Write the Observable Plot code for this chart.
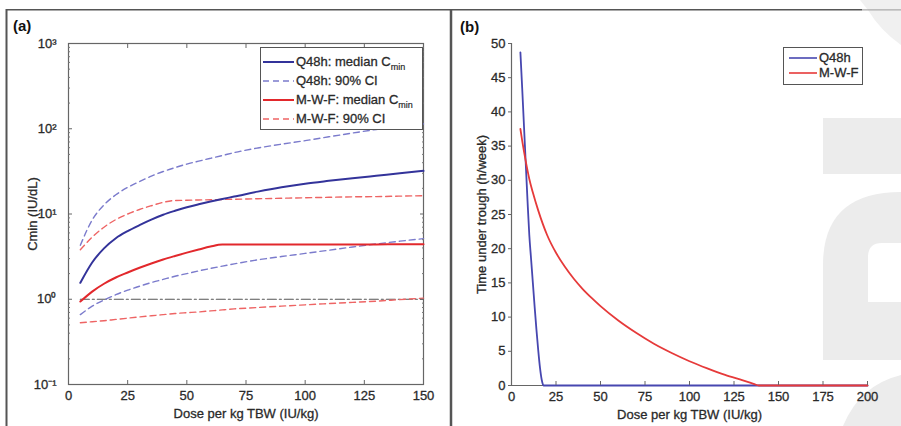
<!DOCTYPE html>
<html><head><meta charset="utf-8">
<script src="https://cdn.jsdelivr.net/npm/d3@7"></script>
<script src="https://cdn.jsdelivr.net/npm/@observablehq/plot@0.6"></script>
<style>
html,body{margin:0;padding:0;background:#fff;}
#root{position:relative;width:901px;height:426px;overflow:hidden;background:#fff;font-family:"Liberation Sans",Arial,sans-serif;color:#2a2a2a;}
#root svg text{stroke:currentColor;stroke-width:0.3px;}
.abs{position:absolute;}
.legend{position:absolute;background:#fff;border:1px solid #555;box-sizing:border-box;}
.entry{position:absolute;height:16px;line-height:16px;font-size:13px;white-space:nowrap;color:#2a2a2a;-webkit-text-stroke:0.3px #2a2a2a;}
.entry svg{position:absolute;left:0;top:0;}
.entry span.t{position:absolute;top:0;}
.entry sub{font-size:9px;vertical-align:-4px;line-height:0;-webkit-text-stroke:0.2px #2a2a2a;}
.plabel{position:absolute;font-weight:bold;font-size:15px;line-height:15px;color:#111;}
</style></head><body>
<div id="root">
  <svg class="abs" id="bg" width="901" height="426" style="left:0;top:0">
    <path d="M860,0 L901,0 L901,45 Q880,30 868,10 Z" fill="#f0f0f0"/>
    <rect x="823" y="118" width="78" height="56" fill="#ececec"/>
    <path d="M823,360 V265 Q823,192 901,192 V360 Z" fill="#ececec"/>
    <path d="M901,243 H882 Q868,243 868,257 V302 H901 Z" fill="#fff"/>
    <path d="M843,426 Q860,385 901,375 V426 Z" fill="#ececec"/>
    <line x1="6" y1="9.8" x2="862" y2="9.8" stroke="#555" stroke-width="1.6"/>
    <line x1="862" y1="9.8" x2="901" y2="9.8" stroke="#aaa" stroke-width="1.2"/>
    <line x1="6.5" y1="9" x2="6.5" y2="426" stroke="#555" stroke-width="2"/>
    <line x1="451" y1="9" x2="451" y2="426" stroke="#555" stroke-width="2.5"/>
  </svg>
  <div class="abs" id="panelA" style="left:0;top:0"></div>
  <div class="abs" id="panelB" style="left:450px;top:0"></div>
  <div class="plabel" style="left:13px;top:18px">(a)</div>
  <div class="plabel" style="left:460px;top:19px">(b)</div>
</div>
<script>
// ---------- Panel (a) data ----------
const doseA = [5,10,15,20,25,30,35,40,45,50,55,60,65,70,80,90,100,110,120,130,140,150];
const q48Median = [1.56,2.7,3.95,5.2,6.3,7.4,8.6,9.8,10.9,12.0,13.0,14.0,15.0,16.0,18.3,20.6,22.7,24.5,26.3,28.1,30.0,32.1];
const q48Upper  = [4.3,8.5,12.8,16.8,20.5,24.0,27.8,31.5,35.0,38.5,41.7,45,48.5,52.5,59.5,66,72.5,80.5,89,98,106,114];
const q48Lower  = [0.66,0.83,0.98,1.13,1.28,1.42,1.57,1.71,1.86,2.0,2.15,2.3,2.45,2.6,2.9,3.17,3.45,3.76,4.1,4.45,4.8,5.14];
const mwfMedian = [0.94,1.23,1.52,1.80,2.06,2.34,2.63,2.93,3.22,3.52,3.83,4.15,4.38,4.38,4.38,4.39,4.39,4.4,4.4,4.4,4.41,4.41];
const mwfUpper  = [3.8,5.35,7.0,8.6,10.0,11.3,12.5,13.7,14.4,14.5,14.6,14.7,14.8,14.9,15.1,15.3,15.5,15.7,15.9,16.0,16.2,16.4];
const mwfLower  = [0.53,0.545,0.56,0.58,0.60,0.62,0.64,0.66,0.68,0.695,0.71,0.73,0.75,0.77,0.80,0.83,0.86,0.89,0.92,0.95,0.99,1.03];
const refDose = [5,150];
const refLevel = [1,1];
const xTicksA = [0,25,50,75,100,125,150];
const yTicksA = [0.1,1,10,100,1000];
const yTickLabelsA = ["10\u207B\u00B9","10\u2070","10\u00B9","10\u00B2","10\u00B3"];
const legendLabelsA = ["Q48h: median C","Q48h: 90% CI","M-W-F: median C","M-W-F: 90% CI"];
const legendSubsA = ["min","","min",""];

// ---------- Panel (b) data ----------
const doseQ48B = [5,6,7,8,9,10,11,12,13,14,15,16,17,18,200];
const q48Hours = [48.7,43.5,38,32.5,27,22,18.5,15,11.5,8.2,5.2,2.6,0.8,0,0];
const doseMwfB = [5,6,8,10,12,15,20,25,30,35,40,45,50,60,70,80,90,100,110,120,130,136,139,200];
const mwfHours = [37.5,35.8,32.8,30.2,28.2,25.6,22.0,19.4,17.35,15.6,14.1,12.8,11.6,9.5,7.7,6.1,4.75,3.55,2.5,1.55,0.75,0.25,0,0];
const xTicksB = [0,25,50,75,100,125,150,175,200];
const yTicksB = [0,5,10,15,20,25,30,35,40,45,50];
const legendLabelsB = ["Q48h","M-W-F"];

// ---------- styles ----------
const FONT = '"Liberation Sans", Arial, sans-serif';
const C_Q48 = "#33339a", C_Q48D = "#7b7bcc", C_MWF = "#e2282c", C_MWFD = "#ee6464";
const C_Q48B = "#4747b0", C_MWFB = "#e63a3a";

const tbl = (xs, ys) => xs.map((d, i) => ({dose: d, value: ys[i]}));
const minorA = d3.range(-1, 3).flatMap(e => d3.range(2, 10).map(m => m * Math.pow(10, e)));

const chartA = Plot.plot({
  width: 450, height: 426,
  marginLeft: 68, marginRight: 27, marginTop: 43, marginBottom: 42,
  style: {background: "transparent", fontFamily: FONT, fontSize: "13px", color: "#2a2a2a", overflow: "visible"},
  x: {domain: [0, 150]},
  y: {type: "log", domain: [0.1, 1000]},
  marks: [
    Plot.frame({stroke: "#666", strokeWidth: 1.2}),
    Plot.line(tbl(refDose, refLevel), {x: "dose", y: "value", stroke: "#555", strokeWidth: 1.2, strokeDasharray: "9,3,2,3"}),
    Plot.line(tbl(doseA, mwfLower), {x: "dose", y: "value", stroke: C_MWFD, strokeWidth: 1.4, strokeDasharray: "6,4", curve: "monotone-x"}),
    Plot.line(tbl(doseA, mwfUpper), {x: "dose", y: "value", stroke: C_MWFD, strokeWidth: 1.4, strokeDasharray: "6,4", curve: "monotone-x"}),
    Plot.line(tbl(doseA, q48Lower), {x: "dose", y: "value", stroke: C_Q48D, strokeWidth: 1.4, strokeDasharray: "6,4", curve: "monotone-x"}),
    Plot.line(tbl(doseA, q48Upper), {x: "dose", y: "value", stroke: C_Q48D, strokeWidth: 1.4, strokeDasharray: "6,4", curve: "monotone-x"}),
    Plot.line(tbl(doseA, mwfMedian), {x: "dose", y: "value", stroke: C_MWF, strokeWidth: 2, curve: "monotone-x"}),
    Plot.line(tbl(doseA, q48Median), {x: "dose", y: "value", stroke: C_Q48, strokeWidth: 2, curve: "monotone-x"}),
    Plot.axisX({ticks: xTicksA, tickSize: 0, tickPadding: 6, label: "Dose per kg TBW (IU/kg)", labelAnchor: "center", labelOffset: 33, labelArrow: "none"}),
    Plot.axisX({ticks: xTicksA, anchor: "bottom", tickSize: -4, tickFormat: () => "", label: null, stroke: "#666"}),
    Plot.axisX({ticks: xTicksA, anchor: "top", tickSize: -4, tickFormat: () => "", label: null, stroke: "#666"}),
    Plot.axisY({ticks: yTicksA, tickSize: 0, tickPadding: 12, tickFormat: d => yTickLabelsA[yTicksA.indexOf(d)], label: "Cmin (IU/dL)", labelAnchor: "center", labelOffset: 41, labelArrow: "none"}),
    Plot.axisY({ticks: yTicksA, anchor: "left", tickSize: -4, tickFormat: () => "", label: null, stroke: "#666"}),
    Plot.axisY({ticks: yTicksA, anchor: "right", tickSize: -4, tickFormat: () => "", label: null, stroke: "#666"}),
    Plot.axisY({ticks: minorA, anchor: "left", tickSize: -2, tickFormat: () => "", label: null, stroke: "#777"}),
    Plot.axisY({ticks: minorA, anchor: "right", tickSize: -2, tickFormat: () => "", label: null, stroke: "#777"})
  ]
});
document.getElementById("panelA").appendChild(chartA);

const chartB = Plot.plot({
  width: 451, height: 426,
  marginLeft: 61, marginRight: 34, marginTop: 43, marginBottom: 41,
  style: {background: "transparent", fontFamily: FONT, fontSize: "13px", color: "#2a2a2a", overflow: "visible"},
  x: {domain: [0, 200]},
  y: {domain: [0, 50]},
  marks: [
    Plot.ruleX([0], {stroke: "#666", strokeWidth: 1.2}),
    Plot.ruleY([0], {stroke: "#666", strokeWidth: 1.2}),
    Plot.line(tbl(doseQ48B, q48Hours), {x: "dose", y: "value", stroke: C_Q48B, strokeWidth: 1.8, curve: "monotone-x"}),
    Plot.line(tbl(doseMwfB, mwfHours), {x: "dose", y: "value", stroke: C_MWFB, strokeWidth: 1.8, curve: "monotone-x"}),
    Plot.axisX({ticks: xTicksB, tickSize: 0, tickPadding: 6, label: "Dose per kg TBW (IU/kg)", labelAnchor: "center", labelOffset: 33, labelArrow: "none"}),
    Plot.axisX({ticks: xTicksB, anchor: "bottom", tickSize: -4, tickFormat: () => "", label: null, stroke: "#666"}),
    Plot.axisY({ticks: yTicksB, tickSize: 3, tickPadding: 3, stroke: "#666", label: "Time under trough (h/week)", labelAnchor: "center", labelOffset: 35, labelArrow: "none"})
  ]
});
document.getElementById("panelB").appendChild(chartB);

// ---------- legends ----------
const root = document.getElementById("root");
function addLegend(box, entries) {
  const lg = document.createElement("div");
  lg.className = "legend";
  Object.assign(lg.style, {left: box.x + "px", top: box.y + "px", width: box.w + "px", height: box.h + "px"});
  root.appendChild(lg);
  entries.forEach(e => {
    const row = document.createElement("div");
    row.className = "entry";
    Object.assign(row.style, {left: box.lineX + "px", top: (e.cy - 8) + "px", width: (box.x + box.w - box.lineX - 2) + "px"});
    const dash = e.dash ? ` stroke-dasharray="${e.dash}"` : "";
    row.innerHTML = `<svg width="${box.lineW}" height="16"><line x1="0" y1="8" x2="${box.lineW}" y2="8" stroke="${e.color}" stroke-width="${e.sw}"${dash}/></svg>` +
      `<span class="t" style="left:${box.lineW + 2}px">${e.label}${e.sub ? "<sub>" + e.sub + "</sub>" : ""}</span>`;
    root.appendChild(row);
  });
}
addLegend({x: 260, y: 47, w: 163, h: 83, lineX: 263, lineW: 31}, [
  {label: legendLabelsA[0], sub: legendSubsA[0], color: C_Q48, sw: 2, cy: 62},
  {label: legendLabelsA[1], sub: legendSubsA[1], color: C_Q48D, sw: 1.4, dash: "6,4", cy: 81},
  {label: legendLabelsA[2], sub: legendSubsA[2], color: C_MWF, sw: 2, cy: 100},
  {label: legendLabelsA[3], sub: legendSubsA[3], color: C_MWFD, sw: 1.4, dash: "6,4", cy: 119}
]);
addLegend({x: 783, y: 47, w: 80, h: 38, lineX: 789, lineW: 28}, [
  {label: legendLabelsB[0], sub: "", color: C_Q48B, sw: 1.6, cy: 58},
  {label: legendLabelsB[1], sub: "", color: C_MWFB, sw: 1.6, cy: 73}
]);
</script>
</body></html>
